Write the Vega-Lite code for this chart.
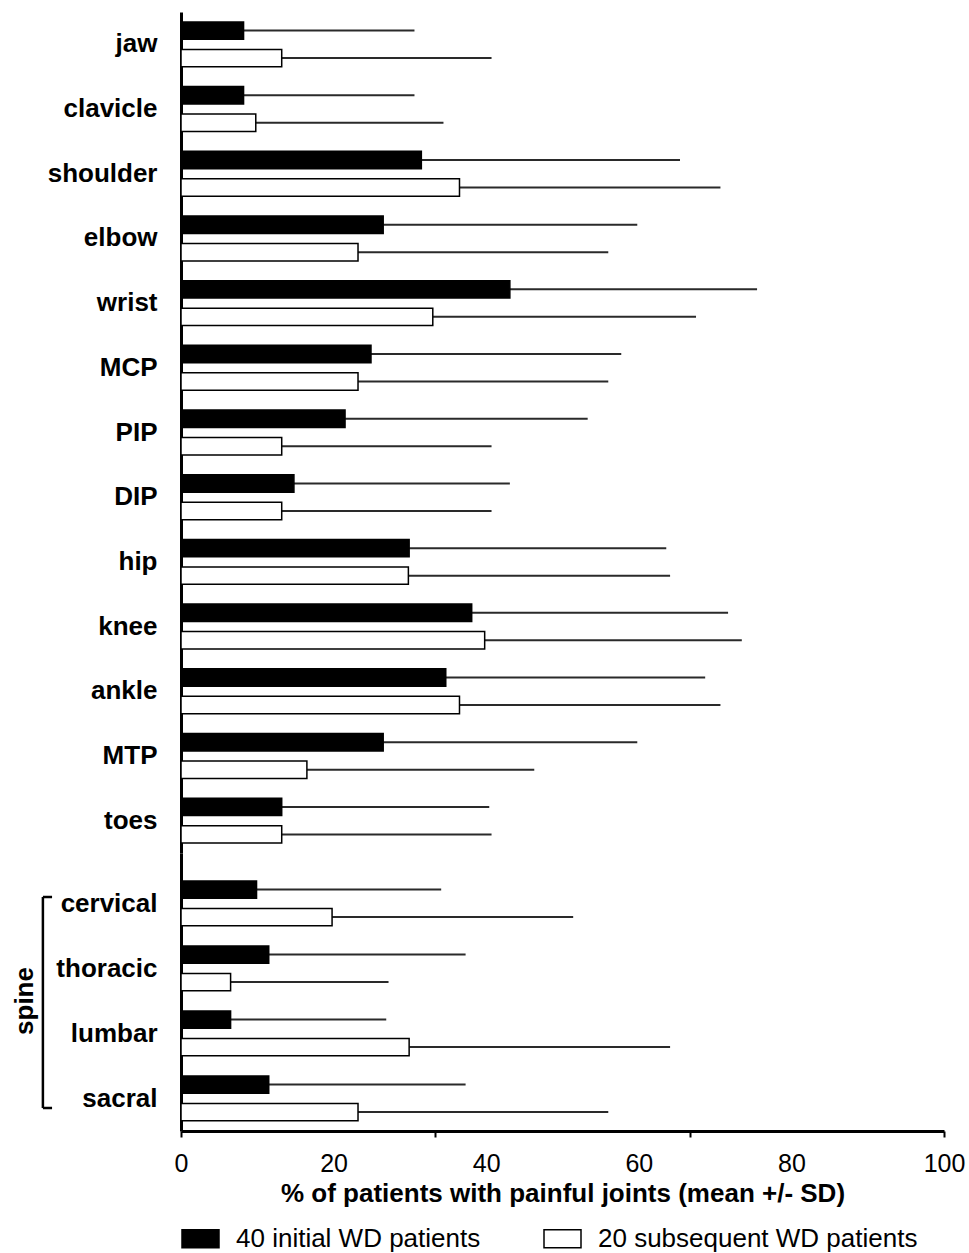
{
  "$schema": "https://vega.github.io/schema/vega-lite/v6.json",
  "background": "white",
  "padding": {"left": 12, "top": 12, "right": 5, "bottom": 0},
  "spacing": 0,
  "resolve": {"scale": {"y": "independent", "x": "shared", "color": "shared"}},
  "config": {
    "view": {"stroke": null},
    "font": "Liberation Sans",
    "axis": {"grid": false, "domainColor": "black", "domainWidth": 3, "tickColor": "black", "labelColor": "black", "titleColor": "black", "labelFont": "Liberation Sans", "titleFont": "Liberation Sans"},
    "legend": {
      "orient": "bottom",
      "direction": "horizontal",
      "labelFontSize": 26,
      "labelFont": "Liberation Sans",
      "labelColor": "black",
      "labelLimit": 500,
      "symbolType": "M-1,-0.486H1V0.486H-1Z",
      "symbolSize": 1369,
      "symbolStrokeColor": "black",
      "symbolStrokeWidth": 1.5,
      "symbolOpacity": 1,
      "labelOffset": 16,
      "columnPadding": 60,
      "offset": 13,
      "padding": 0
    }
  },
  "datasets": {
    "pain": [
      {"joint": "jaw", "region": "joint", "group": "40 initial WD patients", "mean": 8.2, "hi": 30.6},
      {"joint": "jaw", "region": "joint", "group": "20 subsequent WD patients", "mean": 13.2, "hi": 40.7},
      {"joint": "clavicle", "region": "joint", "group": "40 initial WD patients", "mean": 8.2, "hi": 30.6},
      {"joint": "clavicle", "region": "joint", "group": "20 subsequent WD patients", "mean": 9.8, "hi": 34.4},
      {"joint": "shoulder", "region": "joint", "group": "40 initial WD patients", "mean": 31.5, "hi": 65.4},
      {"joint": "shoulder", "region": "joint", "group": "20 subsequent WD patients", "mean": 36.5, "hi": 70.7},
      {"joint": "elbow", "region": "joint", "group": "40 initial WD patients", "mean": 26.5, "hi": 59.8},
      {"joint": "elbow", "region": "joint", "group": "20 subsequent WD patients", "mean": 23.2, "hi": 56.0},
      {"joint": "wrist", "region": "joint", "group": "40 initial WD patients", "mean": 43.1, "hi": 75.5},
      {"joint": "wrist", "region": "joint", "group": "20 subsequent WD patients", "mean": 33.0, "hi": 67.5},
      {"joint": "MCP", "region": "joint", "group": "40 initial WD patients", "mean": 24.9, "hi": 57.7},
      {"joint": "MCP", "region": "joint", "group": "20 subsequent WD patients", "mean": 23.2, "hi": 56.0},
      {"joint": "PIP", "region": "joint", "group": "40 initial WD patients", "mean": 21.5, "hi": 53.3},
      {"joint": "PIP", "region": "joint", "group": "20 subsequent WD patients", "mean": 13.2, "hi": 40.7},
      {"joint": "DIP", "region": "joint", "group": "40 initial WD patients", "mean": 14.8, "hi": 43.1},
      {"joint": "DIP", "region": "joint", "group": "20 subsequent WD patients", "mean": 13.2, "hi": 40.7},
      {"joint": "hip", "region": "joint", "group": "40 initial WD patients", "mean": 29.9, "hi": 63.6},
      {"joint": "hip", "region": "joint", "group": "20 subsequent WD patients", "mean": 29.8, "hi": 64.1},
      {"joint": "knee", "region": "joint", "group": "40 initial WD patients", "mean": 38.1, "hi": 71.7},
      {"joint": "knee", "region": "joint", "group": "20 subsequent WD patients", "mean": 39.8, "hi": 73.5},
      {"joint": "ankle", "region": "joint", "group": "40 initial WD patients", "mean": 34.7, "hi": 68.7},
      {"joint": "ankle", "region": "joint", "group": "20 subsequent WD patients", "mean": 36.5, "hi": 70.7},
      {"joint": "MTP", "region": "joint", "group": "40 initial WD patients", "mean": 26.5, "hi": 59.8},
      {"joint": "MTP", "region": "joint", "group": "20 subsequent WD patients", "mean": 16.5, "hi": 46.3},
      {"joint": "toes", "region": "joint", "group": "40 initial WD patients", "mean": 13.2, "hi": 40.4},
      {"joint": "toes", "region": "joint", "group": "20 subsequent WD patients", "mean": 13.2, "hi": 40.7},
      {"joint": "cervical", "region": "spine", "group": "40 initial WD patients", "mean": 9.9, "hi": 34.1},
      {"joint": "cervical", "region": "spine", "group": "20 subsequent WD patients", "mean": 19.8, "hi": 51.4},
      {"joint": "thoracic", "region": "spine", "group": "40 initial WD patients", "mean": 11.5, "hi": 37.3},
      {"joint": "thoracic", "region": "spine", "group": "20 subsequent WD patients", "mean": 6.5, "hi": 27.2},
      {"joint": "lumbar", "region": "spine", "group": "40 initial WD patients", "mean": 6.5, "hi": 26.9},
      {"joint": "lumbar", "region": "spine", "group": "20 subsequent WD patients", "mean": 29.9, "hi": 64.1},
      {"joint": "sacral", "region": "spine", "group": "40 initial WD patients", "mean": 11.5, "hi": 37.3},
      {"joint": "sacral", "region": "spine", "group": "20 subsequent WD patients", "mean": 23.2, "hi": 56.0}
    ],
    "bracket": [
      {"bx": -18.1, "hookEnd": -16.9, "top": "cervical", "bottom": "sacral", "label": "spine", "mid": "thoracic", "tx": -20.4}
    ]
  },
  "vconcat": [
    {
      "width": 763,
      "height": 841,
      "data": {"name": "pain"},
      "transform": [{"filter": "datum.region == 'joint'"}],
      "encoding": {
        "y": {"field": "joint", "type": "nominal", "sort": null, "title": null,
              "scale": {"paddingInner": 0, "paddingOuter": 0},
              "axis": {"title": null, "ticks": false, "labelFontSize": 26, "labelFontWeight": "bold", "labelPadding": 24, "domainWidth": 3}},
        "yOffset": {"field": "group", "type": "nominal", "scale": {"domain": ["40 initial WD patients", "20 subsequent WD patients"], "paddingInner": 0.366, "paddingOuter": 0.36}}
      },
      "layer": [
        {
          "mark": {"type": "rule", "strokeWidth": 2, "color": "#2a2a2a"},
          "encoding": {
            "x": {"field": "mean", "type": "quantitative", "scale": {"domain": [0, 100], "nice": false}, "axis": null},
            "x2": {"field": "hi"}
          }
        },
        {
          "mark": {"type": "bar", "stroke": "black", "strokeWidth": 1.5},
          "encoding": {
            "x": {"field": "mean", "type": "quantitative", "scale": {"domain": [0, 100], "nice": false}, "axis": null},
            "color": {"field": "group", "type": "nominal", "scale": {"domain": ["40 initial WD patients", "20 subsequent WD patients"], "range": ["black", "white"]}, "legend": {"title": null}}
          }
        }
      ]
    },
    {
      "width": 763,
      "height": 278,
      "layer": [
        {
          "data": {"name": "pain"},
          "transform": [{"filter": "datum.region == 'spine'"}],
          "mark": {"type": "rule", "strokeWidth": 2, "color": "#2a2a2a"},
          "encoding": {
            "y": {"field": "joint", "type": "nominal", "sort": null, "title": null,
                  "scale": {"domain": ["cervical", "thoracic", "lumbar", "sacral"], "paddingInner": 0, "paddingOuter": 0.1385, "align": 1},
                  "axis": {"title": null, "ticks": false, "labelFontSize": 26, "labelFontWeight": "bold", "labelPadding": 24, "domainWidth": 3}},
            "yOffset": {"field": "group", "type": "nominal", "scale": {"domain": ["40 initial WD patients", "20 subsequent WD patients"], "paddingInner": 0.366, "paddingOuter": 0.36}},
            "x": {"field": "mean", "type": "quantitative", "scale": {"domain": [0, 100], "nice": false}},
            "x2": {"field": "hi"}
          }
        },
        {
          "data": {"name": "pain"},
          "transform": [{"filter": "datum.region == 'spine'"}],
          "mark": {"type": "bar", "stroke": "black", "strokeWidth": 1.5},
          "encoding": {
            "y": {"field": "joint", "type": "nominal", "sort": null, "title": null,
                  "scale": {"domain": ["cervical", "thoracic", "lumbar", "sacral"], "paddingInner": 0, "paddingOuter": 0.1385, "align": 1},
                  "axis": {"title": null, "ticks": false, "labelFontSize": 26, "labelFontWeight": "bold", "labelPadding": 24, "domainWidth": 3}},
            "yOffset": {"field": "group", "type": "nominal", "scale": {"domain": ["40 initial WD patients", "20 subsequent WD patients"], "paddingInner": 0.366, "paddingOuter": 0.36}},
            "x": {"field": "mean", "type": "quantitative", "scale": {"domain": [0, 100], "nice": false},
                  "axis": {
                    "title": "% of patients with painful joints (mean +/- SD)",
                    "titleFontSize": 26, "titleFontWeight": "bold", "titlePadding": 4,
                    "values": [0, 20, 33.3333, 40, 60, 66.6667, 80, 100],
                    "labelExpr": "datum.value % 20 === 0 ? '' + datum.value : ''",
                    "tickOpacity": {"condition": {"test": "datum.value % 20 === 0 && datum.value > 0 && datum.value < 100", "value": 0}, "value": 1},
                    "tickSize": 6, "tickWidth": 2,
                    "labelFontSize": 25, "labelPadding": 14, "labelFlush": false, "labelOverlap": false,
                    "domainWidth": 3
                  }},
            "color": {"field": "group", "type": "nominal", "scale": {"domain": ["40 initial WD patients", "20 subsequent WD patients"], "range": ["black", "white"]}, "legend": {"title": null}}
          }
        },
        {
          "data": {"name": "bracket"},
          "mark": {"type": "rule", "strokeWidth": 2.5, "color": "black", "yOffset": -6.5, "y2Offset": 9.5},
          "encoding": {
            "y": {"field": "top", "type": "nominal"},
            "y2": {"field": "bottom"},
            "x": {"field": "bx", "type": "quantitative"}
          }
        },
        {
          "data": {"name": "bracket"},
          "mark": {"type": "rule", "strokeWidth": 2.5, "color": "black", "yOffset": -6.5},
          "encoding": {
            "y": {"field": "top", "type": "nominal"},
            "x": {"field": "bx", "type": "quantitative"},
            "x2": {"field": "hookEnd"}
          }
        },
        {
          "data": {"name": "bracket"},
          "mark": {"type": "rule", "strokeWidth": 2.5, "color": "black", "yOffset": 9.5},
          "encoding": {
            "y": {"field": "bottom", "type": "nominal"},
            "x": {"field": "bx", "type": "quantitative"},
            "x2": {"field": "hookEnd"}
          }
        },
        {
          "data": {"name": "bracket"},
          "mark": {"type": "text", "angle": 270, "fontSize": 26, "fontWeight": "bold", "font": "Liberation Sans", "color": "black", "align": "center", "baseline": "middle"},
          "encoding": {
            "y": {"field": "mid", "type": "nominal", "bandPosition": 1},
            "x": {"field": "tx", "type": "quantitative"},
            "text": {"field": "label"}
          }
        }
      ]
    }
  ]
}
